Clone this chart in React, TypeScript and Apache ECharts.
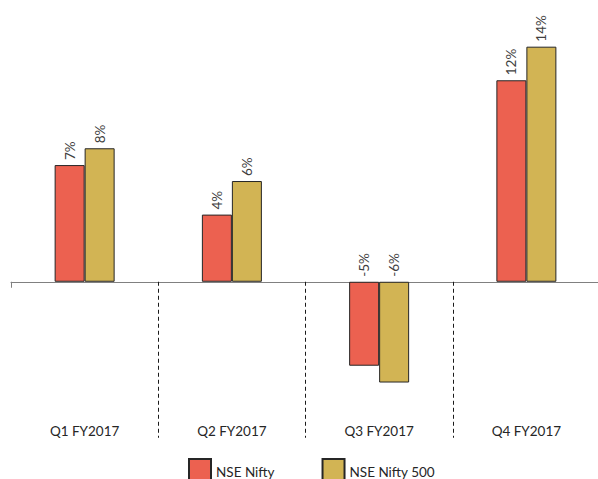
import React, { useEffect, useRef } from "react";
import * as echarts from "echarts";

const categories = ["Q1 FY2017", "Q2 FY2017", "Q3 FY2017", "Q4 FY2017"];
const seriesNames = ["NSE Nifty", "NSE Nifty 500"];
const niftyValues = [6.95, 4.0, -5.0, 12.0];
const nifty500Values = [7.95, 6.0, -6.0, 14.0];
const seriesColors = ["#EC6150", "#D2B454"];

const FONT = "Lato, 'Noto Sans', sans-serif";

export default function App() {
  const ref = useRef<HTMLDivElement>(null);

  useEffect(() => {
    if (!ref.current) return;
    const chart = echarts.init(ref.current, undefined, { renderer: "svg" });

    const labelCfg = {
      show: true,
      position: "top",
      rotate: 90,
      align: "left",
      verticalAlign: "middle",
      distance: 5,
      color: "#404040",
      fontFamily: FONT,
      fontSize: 13.5,
      formatter: (p: any) => Math.round(p.value) + "%",
    };

    const mkSeries = (name: string, data: number[], color: string) => ({
      name,
      type: "bar",
      data,
      barWidth: 30,
      barGap: "0%",
      itemStyle: { color, borderColor: "#262626", borderWidth: 1 },
      label: labelCfg,
    });

    chart.setOption({
      animation: false,
      backgroundColor: "#ffffff",
      textStyle: { fontFamily: FONT },
      grid: {
        left: 11,
        top: 13.1,
        width: 589,
        height: 403,
        containLabel: false,
        outerBoundsMode: "none",
      },
      legend: {
        data: seriesNames,
        left: 188,
        top: 458,
        padding: 0,
        icon: "rect",
        itemWidth: 22,
        itemHeight: 26,
        itemGap: 47,
        textStyle: { fontFamily: FONT, fontSize: 13.5, color: "#262626" },
      },
      xAxis: [
        {
          type: "category",
          data: categories,
          position: "bottom",
          axisLine: {
            show: true,
            onZero: true,
            onZeroAxisIndex: 0,
            lineStyle: { color: "#808080", width: 1 },
          },
          axisTick: {
            show: true,
            interval: (index: number) => index !== 0,
            length: 156,
            lineStyle: { color: "#1a1a1a", width: 1, type: [4, 3] },
          },
          axisLabel: {
            show: true,
            margin: 8,
            color: "#262626",
            fontFamily: FONT,
            fontSize: 13.5,
          },
          splitLine: { show: false },
        },
        {
          type: "category",
          data: categories,
          position: "bottom",
          axisLine: { show: false, onZero: true, onZeroAxisIndex: 0 },
          axisTick: {
            show: true,
            interval: (index: number) => index === 0,
            length: 6,
            lineStyle: { color: "#808080", width: 1 },
          },
          axisLabel: { show: false },
          splitLine: { show: false },
        },
      ],
      yAxis: {
        type: "value",
        min: -8,
        max: 16,
        show: false,
        splitLine: { show: false },
      },
      series: [
        mkSeries(seriesNames[0], niftyValues, seriesColors[0]),
        mkSeries(seriesNames[1], nifty500Values, seriesColors[1]),
      ],
    });

    return () => chart.dispose();
  }, []);

  return (
    <div
      ref={ref}
      style={{ position: "absolute", left: 0, top: 0, width: 598, height: 479 }}
    />
  );
}
